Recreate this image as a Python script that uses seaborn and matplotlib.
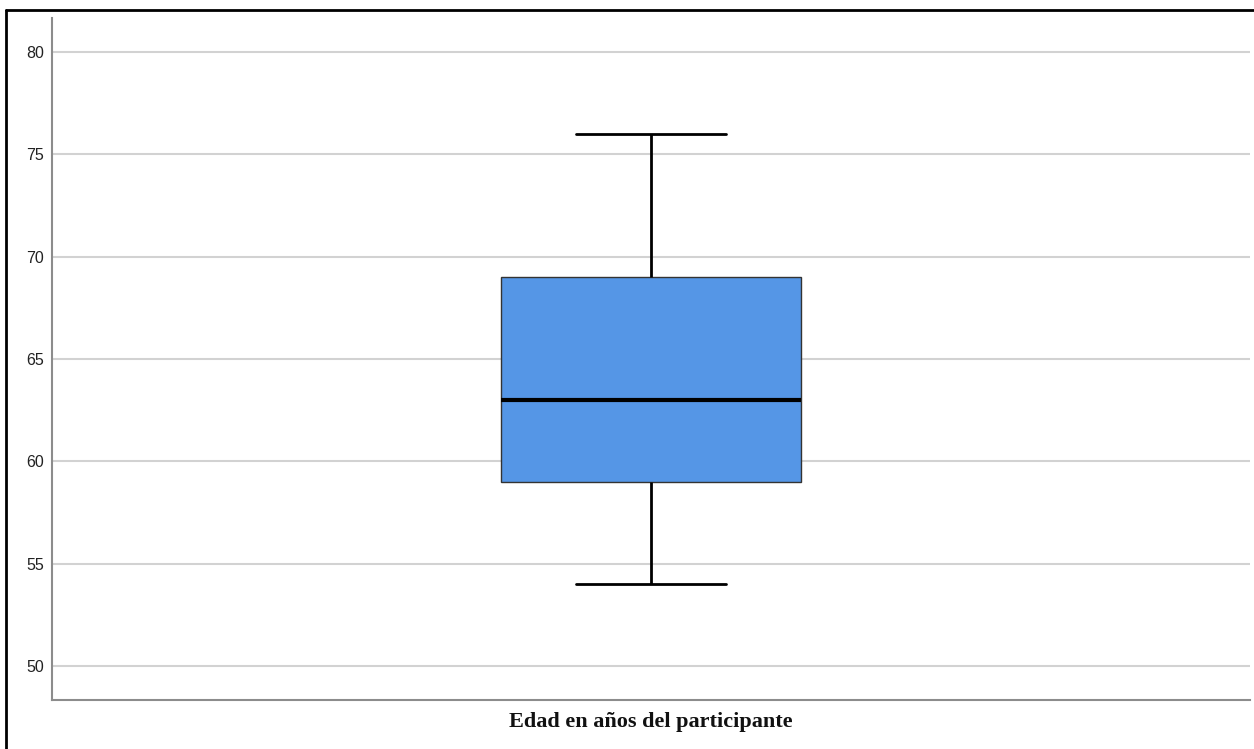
import matplotlib
matplotlib.use("Agg")
import matplotlib.pyplot as plt
from matplotlib.lines import Line2D
import seaborn as sns
import pandas as pd

# Participant ages (years)
ages = [54, 59, 63, 69, 76]
variable_label = "Edad en años del participante"
y_ticks = [50, 55, 60, 65, 70, 75, 80]

sns.set_theme(style="white")
plt.rcParams["font.family"] = ["Liberation Sans", "DejaVu Sans"]

df = pd.DataFrame({"edad": ages, "grupo": [variable_label] * len(ages)})

fig = plt.figure(figsize=(12.54, 7.49), dpi=100)
ax = fig.add_axes([52 / 1254, 49 / 749, 1198 / 1254, 682 / 749])

sns.boxplot(
    data=df, x="grupo", y="edad", ax=ax,
    color="#5596e6", saturation=1, width=0.25, whis=1.5,
    boxprops=dict(edgecolor="#333333", linewidth=1.0),
    whiskerprops=dict(color="black", linewidth=2.0),
    capprops=dict(color="black", linewidth=2.0),
    medianprops=dict(color="black", linewidth=3.0),
)

ax.set_ylim(48.34, 81.66)
ax.set_xlim(-0.5, 0.5)
ax.set_yticks(y_ticks)
ax.set_yticklabels([str(t) for t in y_ticks], fontsize=11.5, color="#222222")
ax.tick_params(axis="y", length=0, pad=5.5)
ax.set_xticks([])
ax.set_ylabel("")
ax.set_xlabel(variable_label, fontsize=16, fontweight="bold",
              family=["Liberation Serif", "DejaVu Serif"], color="#111111", labelpad=9)

ax.yaxis.grid(True, color="#d2d2d2", linewidth=1.5)
ax.set_axisbelow(True)
for side in ("top", "right"):
    ax.spines[side].set_visible(False)
for side in ("left", "bottom"):
    ax.spines[side].set_color("#8c8c8c")
    ax.spines[side].set_linewidth(1.5)

# Outer frame around the chart area
fy = 1 - 10 / 749
fx = 6 / 1254
fig.add_artist(Line2D([fx, 1.0], [fy, fy], color="black", linewidth=2, transform=fig.transFigure))
fig.add_artist(Line2D([fx, fx], [0.0, fy], color="black", linewidth=2, transform=fig.transFigure))

fig.savefig("out.png", dpi=100, facecolor="white")
